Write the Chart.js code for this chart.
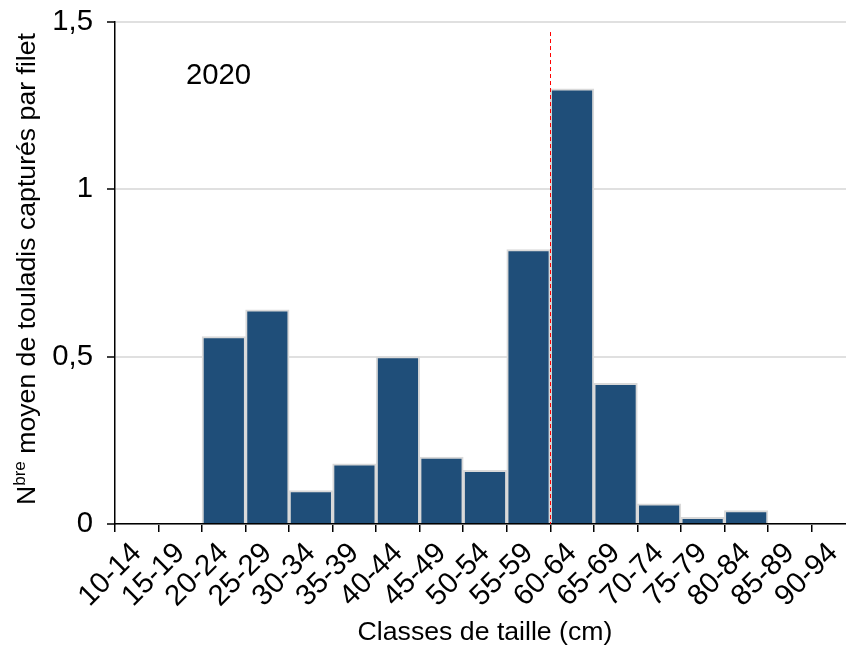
<!DOCTYPE html>
<html>
<head>
<meta charset="utf-8">
<script src="https://cdn.jsdelivr.net/npm/chart.js@4/dist/chart.umd.min.js"></script>
<style>
  html, body { margin: 0; padding: 0; background: #fff; overflow: hidden; }
  #wrap { width: 870px; height: 649px; }
</style>
</head>
<body>
<div id="wrap"><canvas id="c"></canvas></div>
<script>
// Size classes (cm) and mean number of lake trout caught per net
const sizeClasses = ['10-14', '15-19', '20-24', '25-29', '30-34', '35-39', '40-44', '45-49',
  '50-54', '55-59', '60-64', '65-69', '70-74', '75-79', '80-84', '85-89', '90-94'];
const meanCatchPerNet = [0, 0, 0.56, 0.64, 0.10, 0.18, 0.50, 0.20,
  0.16, 0.82, 1.30, 0.42, 0.06, 0.02, 0.04, 0, 0];
const yTickValues = [0, 0.5, 1, 1.5];
const yTickLabels = ['0', '0,5', '1', '1,5'];
const yearLabel = '2020';
// Size limit marked by the dashed line: boundary between these two classes
const limitBetween = ['55-59', '60-64'];
const limitTop = 1.47;

const FONT = "'Liberation Sans', Arial, sans-serif";

const limitLine = {
  id: 'limitLine',
  afterDatasetsDraw(chart) {
    const { ctx, scales: { x, y } } = chart;
    const i0 = sizeClasses.indexOf(limitBetween[0]);
    const i1 = sizeClasses.indexOf(limitBetween[1]);
    const px = Math.round((x.getPixelForValue(i0) + x.getPixelForValue(i1)) / 2) + 0.5;
    ctx.save();
    ctx.strokeStyle = '#FF0000';
    ctx.lineWidth = 1;
    ctx.setLineDash([4, 3]);
    ctx.beginPath();
    ctx.moveTo(px, y.getPixelForValue(limitTop));
    ctx.lineTo(px, y.getPixelForValue(0));
    ctx.stroke();
    ctx.restore();
  }
};

const annotations = {
  id: 'annotations',
  afterDraw(chart) {
    const { ctx, chartArea } = chart;
    ctx.save();
    ctx.fillStyle = '#000';
    // year label
    ctx.font = `29.3px ${FONT}`;
    ctx.textAlign = 'center';
    ctx.textBaseline = 'alphabetic';
    ctx.fillText(yearLabel, chartArea.left + 103.5, chartArea.top + 62);

    // y-axis title with superscript "bre"
    const big = `26.67px ${FONT}`, small = `17px ${FONT}`;
    const parts = [
      { t: 'N', f: big, dy: 0 },
      { t: 'bre', f: small, dy: -10 },
      { t: ' moyen de touladis capturés par filet', f: big, dy: 0 }
    ];
    let total = 0;
    parts.forEach(p => { ctx.font = p.f; p.w = ctx.measureText(p.t).width; total += p.w; });
    ctx.translate(35, (chartArea.top + chartArea.bottom) / 2 - 4);
    ctx.rotate(-Math.PI / 2);
    ctx.textAlign = 'left';
    let cx = -total / 2;
    parts.forEach(p => { ctx.font = p.f; ctx.fillText(p.t, cx, p.dy); cx += p.w; });
    ctx.restore();
  }
};

new Chart(document.getElementById('c'), {
  type: 'bar',
  data: {
    labels: sizeClasses,
    datasets: [{
      data: meanCatchPerNet,
      backgroundColor: '#1F4E79',
      borderColor: '#D9D9D9',
      borderWidth: 2,
      barPercentage: 1,
      categoryPercentage: 1
    }]
  },
  options: {
    responsive: true,
    maintainAspectRatio: false,
    animation: false,
    layout: { padding: { top: 22, right: 15, left: 0, bottom: 0 } },
    plugins: { legend: { display: false }, tooltip: { enabled: false } },
    scales: {
      x: {
        offset: true,
        grid: { offset: true, drawOnChartArea: false, drawTicks: true, tickLength: 8, color: '#000', lineWidth: 1.5 },
        border: { color: '#000', width: 1.5 },
        ticks: { color: '#000', font: { family: FONT, size: 29.3 }, minRotation: 45, maxRotation: 45, padding: 4, autoSkip: false },
        title: { display: true, text: 'Classes de taille (cm)', color: '#000', font: { family: FONT, size: 26.67 }, padding: { top: 0, bottom: 0 } },
        afterFit(scale) { scale.height = 125; }
      },
      y: {
        min: 0,
        max: 1.5,
        grid: { color: '#E0E0E0', lineWidth: 2, tickColor: '#000', tickLength: 8, tickWidth: 1.5 },
        border: { color: '#000', width: 1.5 },
        ticks: {
          stepSize: 0.5,
          color: '#000',
          padding: 14,
          font: { family: FONT, size: 29.3, lineHeight: 0.5 },
          callback: v => { const i = yTickValues.indexOf(v); return i >= 0 ? yTickLabels[i] : ''; }
        },
        afterFit(scale) { scale.width = 115; }
      }
    }
  },
  plugins: [limitLine, annotations]
});
</script>
</body>
</html>
